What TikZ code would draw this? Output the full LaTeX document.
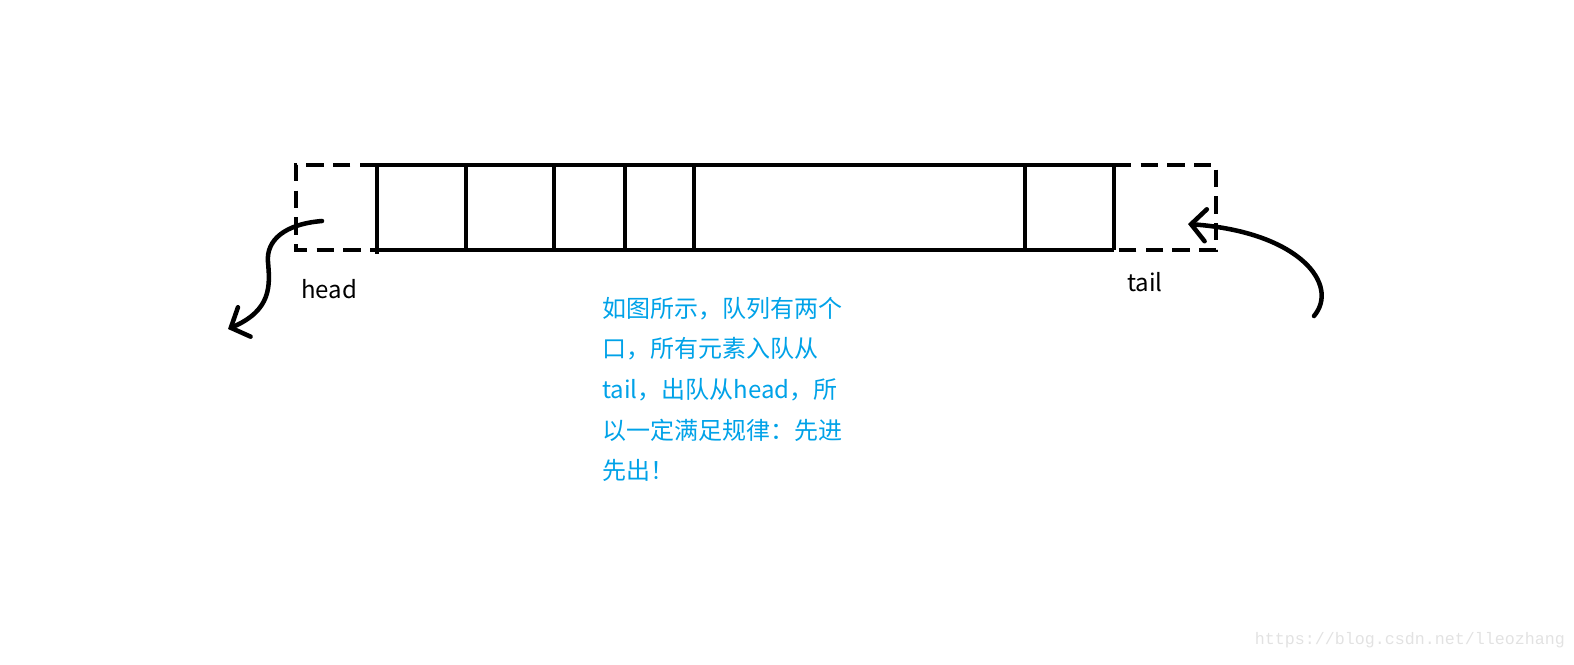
\documentclass[tikz,border=0pt]{standalone}
\usepackage{fontspec}
\setmainfont{Noto Sans CJK SC}
\newfontfamily\urlfont{Liberation Mono}
\usetikzlibrary{calc,positioning,arrows.meta}
\definecolor{paintblue}{RGB}{0,162,232}
\definecolor{marklight}{RGB}{226,226,226}

\begin{document}
\begin{tikzpicture}[x=0.75pt,y=-0.75pt]
\tikzstyle{queueline}=[line width=3.4pt]
\tikzstyle{openend}=[line width=3.4pt, dash pattern=on 13pt off 7pt]
\tikzstyle{penarrow}=[line width=3.4pt, line cap=round, -{Straight Barb[length=11pt,width=24pt,line cap=round]}]
\tikzstyle{label}=[inner sep=0pt, font=\fontsize{18}{30.4}\selectfont]
\useasboundingbox (0,0) rectangle (1574,664);

% queue cells
\coordinate (T0) at (377,165); \coordinate (B0) at (377,254);
\coordinate (T1) at (466,165); \coordinate (B1) at (466,250);
\coordinate (T2) at (554,165); \coordinate (B2) at (554,250);
\coordinate (T3) at (625,165); \coordinate (B3) at (625,250);
\coordinate (T4) at (694,165); \coordinate (B4) at (694,250);
\coordinate (T5) at (1025,165); \coordinate (B5) at (1025,250);
\coordinate (T6) at (1114,165); \coordinate (B6) at (1114,250);
\draw[queueline] (T0) -- (T6) (B0 |- B1) -- (B6);
\draw[queueline] (T0) -- (B0) (T1) -- (B1) (T2) -- (B2) (T3) -- (B3)
  (T4) -- (B4) (T5) -- (B5) (T6) -- (B6);

% open ends
\draw[openend] (T0) -- (296,165) -- (296,250) -- (B0 |- B1);
\draw[openend] (T6) -- (1216,165) -- (1216,250) -- (B6);

\node[label] (head) at (329,289) {head};
\node[label] (tail) at (1145,282) {tail};

% dequeue / enqueue
\coordinate (out) at (322,221);
\coordinate (gone) at (228,329);
\coordinate (come) at (1314,316);
\coordinate (in) at (1188,224);
\draw[penarrow] (out) .. controls (285,224) and (266,240) .. (268,262)
  .. controls (270,285) and (272,310) .. (gone);
\draw[penarrow] (come) .. controls (1340,285) and (1300,232) .. (in);

\node[label, text=paintblue, align=left, anchor=north west] (note) at (602,297)
  {如图所示，队列有两个\\口，所有元素入队从\\tail，出队从head，所\\以一定满足规律：先进\\先出！};

\node[inner sep=0pt, text=marklight, font=\urlfont\fontsize{12.5}{14}\selectfont] (mark) at (1410,640)
  {https://blog.csdn.net/lleozhang};
\end{tikzpicture}
\end{document}
